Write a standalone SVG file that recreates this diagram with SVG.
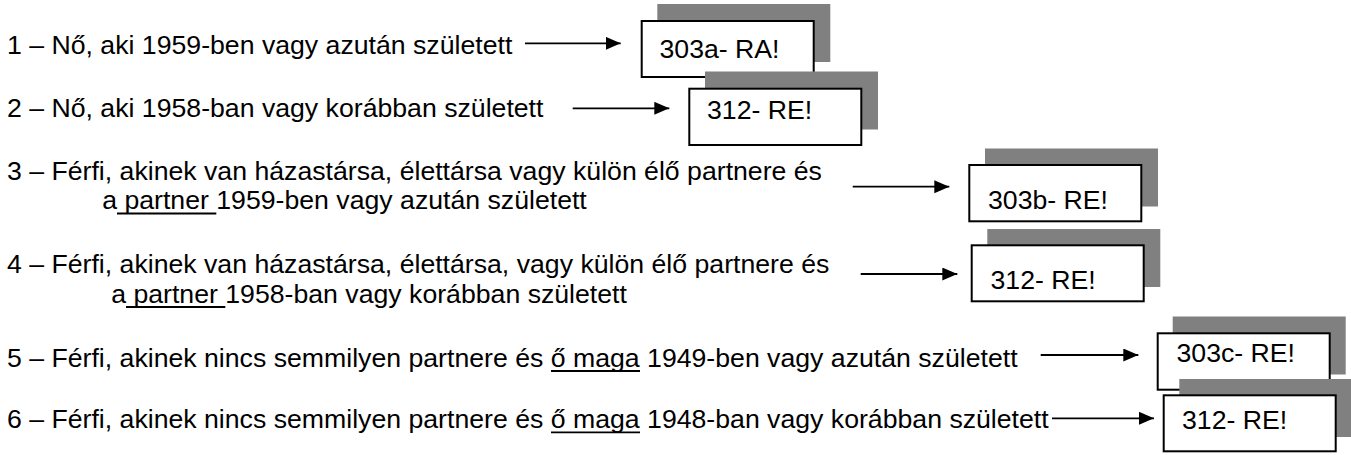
<svg xmlns="http://www.w3.org/2000/svg" width="1351" height="455" viewBox="0 0 1351 455">
<style>
  .t { font-family: "Liberation Sans", Arial, sans-serif; font-size: 26.67px; fill: #000; }
  .box { fill: #fff; stroke: #000; stroke-width: 2; }
  .shadow { fill: #808080; stroke: none; }
  .arrow { stroke: #000; stroke-width: 1.8; fill: none; marker-end: url(#ah); }
  .ul { stroke: #000; stroke-width: 1.8; }
</style>
<defs>
  <marker id="ah" markerUnits="userSpaceOnUse" markerWidth="16" markerHeight="14" refX="15" refY="6.5" orient="auto">
    <path d="M0,0 L15,6.5 L0,13 z" fill="#000"/>
  </marker>
</defs>
<rect width="1351" height="455" fill="#fff"/>

<g id="labels">
  <g id="label1"><text class="t" x="7" y="54.3">1 – Nő, aki 1959-ben vagy azután született</text></g>
  <g id="label2"><text class="t" x="7" y="117.3">2 – Nő, aki 1958-ban vagy korábban született</text></g>
  <g id="label3">
    <text class="t" x="7" y="180">3 – Férfi, akinek van házastársa, élettársa vagy külön élő partnere és</text>
    <text class="t" x="102.2" y="209">a<tspan> partner </tspan>1959-ben vagy azután született</text>
    <line class="ul" x1="117" y1="213.5" x2="216.3" y2="213.5"/>
  </g>
  <g id="label4">
    <text class="t" x="7" y="273.3">4 – Férfi, akinek van házastársa, élettársa, vagy külön élő partnere és</text>
    <text class="t" x="111.2" y="303">a<tspan> partner </tspan>1958-ban vagy korábban született</text>
    <line class="ul" x1="126" y1="307" x2="225.3" y2="307"/>
  </g>
  <g id="label5">
    <text class="t" x="7" y="367">5 – Férfi, akinek nincs semmilyen partnere és <tspan>ő maga</tspan> 1949-ben vagy azután született</text>
    <line class="ul" x1="551" y1="371" x2="640" y2="371"/>
  </g>
  <g id="label6">
    <text class="t" x="7" y="428.3">6 – Férfi, akinek nincs semmilyen partnere és <tspan>ő maga</tspan> 1948-ban vagy korábban született</text>
    <line class="ul" x1="551" y1="432.3" x2="640" y2="432.3"/>
  </g>
</g>

<g id="connectors">
  <line class="arrow" x1="525" y1="43.3" x2="620.7" y2="43.3"/>
  <line class="arrow" x1="572.7" y1="108.3" x2="669.3" y2="108.3"/>
  <line class="arrow" x1="852.7" y1="186.7" x2="949.3" y2="186.7"/>
  <line class="arrow" x1="860.7" y1="274" x2="957.3" y2="274"/>
  <line class="arrow" x1="1040.7" y1="355" x2="1138.3" y2="355"/>
  <line class="arrow" x1="1052" y1="418.3" x2="1154" y2="418.3"/>
</g>

<g id="box1">
  <rect class="shadow" x="657.3" y="4" width="173" height="58"/>
  <rect class="box" x="641.7" y="21" width="172" height="56"/>
  <text class="t" x="659.5" y="57.5">303a- RA!</text>
</g>
<g id="box2">
  <rect class="shadow" x="705" y="71.5" width="173" height="58"/>
  <rect class="box" x="689.3" y="88.7" width="172" height="56.3"/>
  <text class="t" x="707" y="118.5">312- RE!</text>
</g>
<g id="box3">
  <rect class="shadow" x="985" y="148.5" width="173" height="58"/>
  <rect class="box" x="969.3" y="165" width="172" height="56.3"/>
  <text class="t" x="988" y="208.5">303b- RE!</text>
</g>
<g id="box4">
  <rect class="shadow" x="987.3" y="229" width="173" height="58"/>
  <rect class="box" x="971.7" y="245.3" width="172" height="56"/>
  <text class="t" x="990.5" y="288.5">312- RE!</text>
</g>
<g id="box5">
  <rect class="shadow" x="1172.7" y="316.5" width="173" height="58"/>
  <rect class="box" x="1157.7" y="333.3" width="172" height="56.4"/>
  <text class="t" x="1176.5" y="361.7">303c- RE!</text>
</g>
<g id="box6">
  <rect class="shadow" x="1179.3" y="379" width="173" height="58"/>
  <rect class="box" x="1163.7" y="395.3" width="172" height="56"/>
  <text class="t" x="1182" y="428.5">312- RE!</text>
</g>
</svg>
